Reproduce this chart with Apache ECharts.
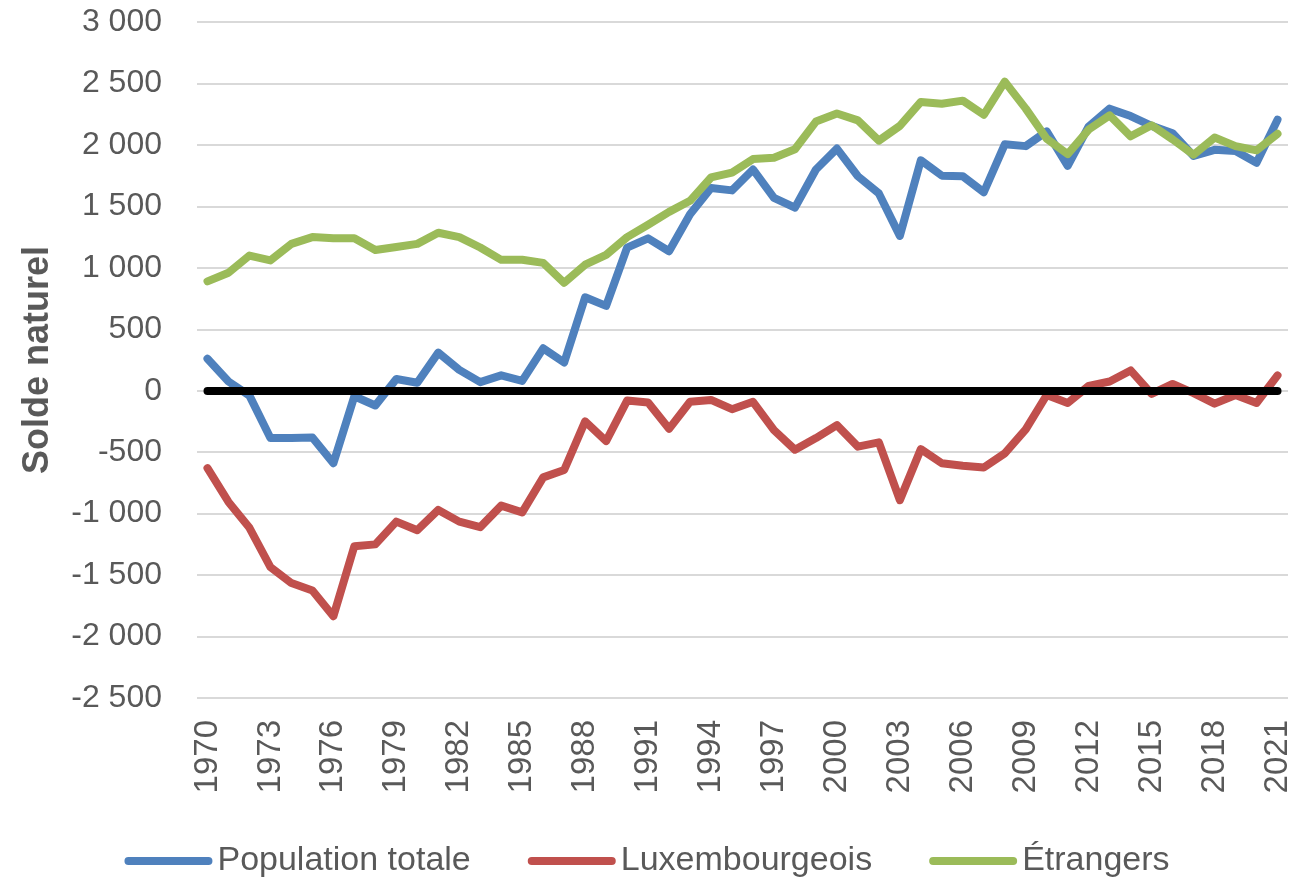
<!DOCTYPE html>
<html>
<head>
<meta charset="utf-8">
<style>
  html, body { margin: 0; padding: 0; background: #fff; }
  #chart { width: 1294px; height: 879px; }
</style>
<script src="https://cdn.jsdelivr.net/npm/echarts@6/dist/echarts.min.js"></script>
</head>
<body>
<div id="chart"></div>
<script>
// années
const years = [
  '1970', '1971', '1972', '1973', '1974', '1975', '1976', '1977', '1978', '1979',
  '1980', '1981', '1982', '1983', '1984', '1985', '1986', '1987', '1988', '1989',
  '1990', '1991', '1992', '1993', '1994', '1995', '1996', '1997', '1998', '1999',
  '2000', '2001', '2002', '2003', '2004', '2005', '2006', '2007', '2008', '2009',
  '2010', '2011', '2012', '2013', '2014', '2015', '2016', '2017', '2018', '2019',
  '2020', '2021'
]

// solde naturel par groupe
const populationTotale = [
  260, 75, -40, -385, -385, -380, -590, -45, -120, 95,
  65, 310, 170, 70, 125, 80, 345, 230, 760, 690,
  1165, 1240, 1135, 1435, 1650, 1630, 1800, 1570, 1490, 1800,
  1970, 1745, 1605, 1260, 1875, 1750, 1745, 1615, 2005, 1990,
  2110, 1830, 2150, 2295, 2235, 2155, 2095, 1910, 1960, 1950,
  1855, 2205
]
const luxembourgeois = [
  -630, -905, -1115, -1435, -1565, -1625, -1835, -1265, -1250, -1065,
  -1135, -970, -1065, -1110, -935, -990, -705, -645, -250, -410,
  -80, -95, -310, -90, -75, -150, -90, -320, -480, -385,
  -280, -455, -420, -890, -475, -590, -610, -625, -510, -315,
  -35, -100, 40, 75, 165, -25, 55, -20, -105, -35,
  -100, 125
]
const etrangers = [
  890, 960, 1100, 1060, 1195, 1250, 1240, 1240, 1145, 1170,
  1195, 1285, 1250, 1165, 1065, 1065, 1040, 878, 1025, 1105,
  1250, 1350, 1455, 1545, 1735, 1775, 1885, 1895, 1965, 2190,
  2255, 2200, 2035, 2155, 2350, 2335, 2360, 2245, 2515, 2295,
  2050, 1925, 2125, 2240, 2070, 2160, 2045, 1920, 2060, 1990,
  1955, 2090
]

const seriesNames = ['Population totale', 'Luxembourgeois', 'Étrangers']
const seriesColors = ['#4f81bd', '#c0504d', '#9bbb59']

const font = '"Liberation Sans", Arial, sans-serif'
const textColor = '#595959'

// "2 500" avec espace comme séparateur de milliers
const formatNumber = (v) => {
  const s = String(Math.abs(v)).replace(/\B(?=(\d{3})+(?!\d))/g, ' ')
  return (v < 0 ? '-' : '') + s
}

const lineSeries = (name, data, color) => ({
  name: name,
  type: 'line',
  data: data,
  symbol: 'none',
  lineStyle: { width: 8, color: color, cap: 'round', join: 'round' },
  itemStyle: { color: color }
})

const chart = echarts.init(document.getElementById('chart'))

const series = [
  lineSeries(seriesNames[0], populationTotale, seriesColors[0]),
  lineSeries(seriesNames[1], luxembourgeois, seriesColors[1]),
  lineSeries(seriesNames[2], etrangers, seriesColors[2])
]

// ligne du zéro
series[0].markLine = {
  silent: true,
  symbol: ['none', 'none'],
  label: { show: false },
  lineStyle: { color: '#000', width: 8, type: 'solid', cap: 'round' },
  data: [[
    { coord: [years[0], 0] },
    { coord: [years[years.length - 1], 0] }
  ]]
}

const option = {
  animation: false,
  grid: { left: 197, right: 5, top: 22, bottom: 181 },
  legend: {
    data: seriesNames,
    left: 'center',
    top: 839,
    itemWidth: 88,
    itemHeight: 8,
    itemGap: 57,
    icon: 'path://M4,0 L84,0 A4,4 0 0 1 84,8 L4,8 A4,4 0 0 1 4,0 Z',
    textStyle: { fontFamily: font, fontSize: 34, color: textColor }
  },
  xAxis: {
    type: 'category',
    data: years,
    boundaryGap: true,
    axisLine: { show: false },
    axisTick: { show: false },
    axisLabel: {
      interval: 2,
      rotate: 90,
      margin: 22,
      fontFamily: font,
      fontSize: 33,
      color: textColor
    }
  },
  yAxis: {
    type: 'value',
    min: -2500,
    max: 3000,
    interval: 500,
    name: 'Solde naturel',
    nameLocation: 'middle',
    nameGap: 141,
    nameTextStyle: { fontFamily: font, fontSize: 36, fontWeight: 'bold', color: textColor },
    axisLine: { show: false },
    axisTick: { show: false },
    axisLabel: {
      margin: 35,
      fontFamily: font,
      fontSize: 32,
      color: textColor,
      formatter: formatNumber
    },
    splitLine: { lineStyle: { color: '#d9d9d9', width: 2 } }
  },
  series: series
}

chart.setOption(option)
</script>
</body>
</html>
